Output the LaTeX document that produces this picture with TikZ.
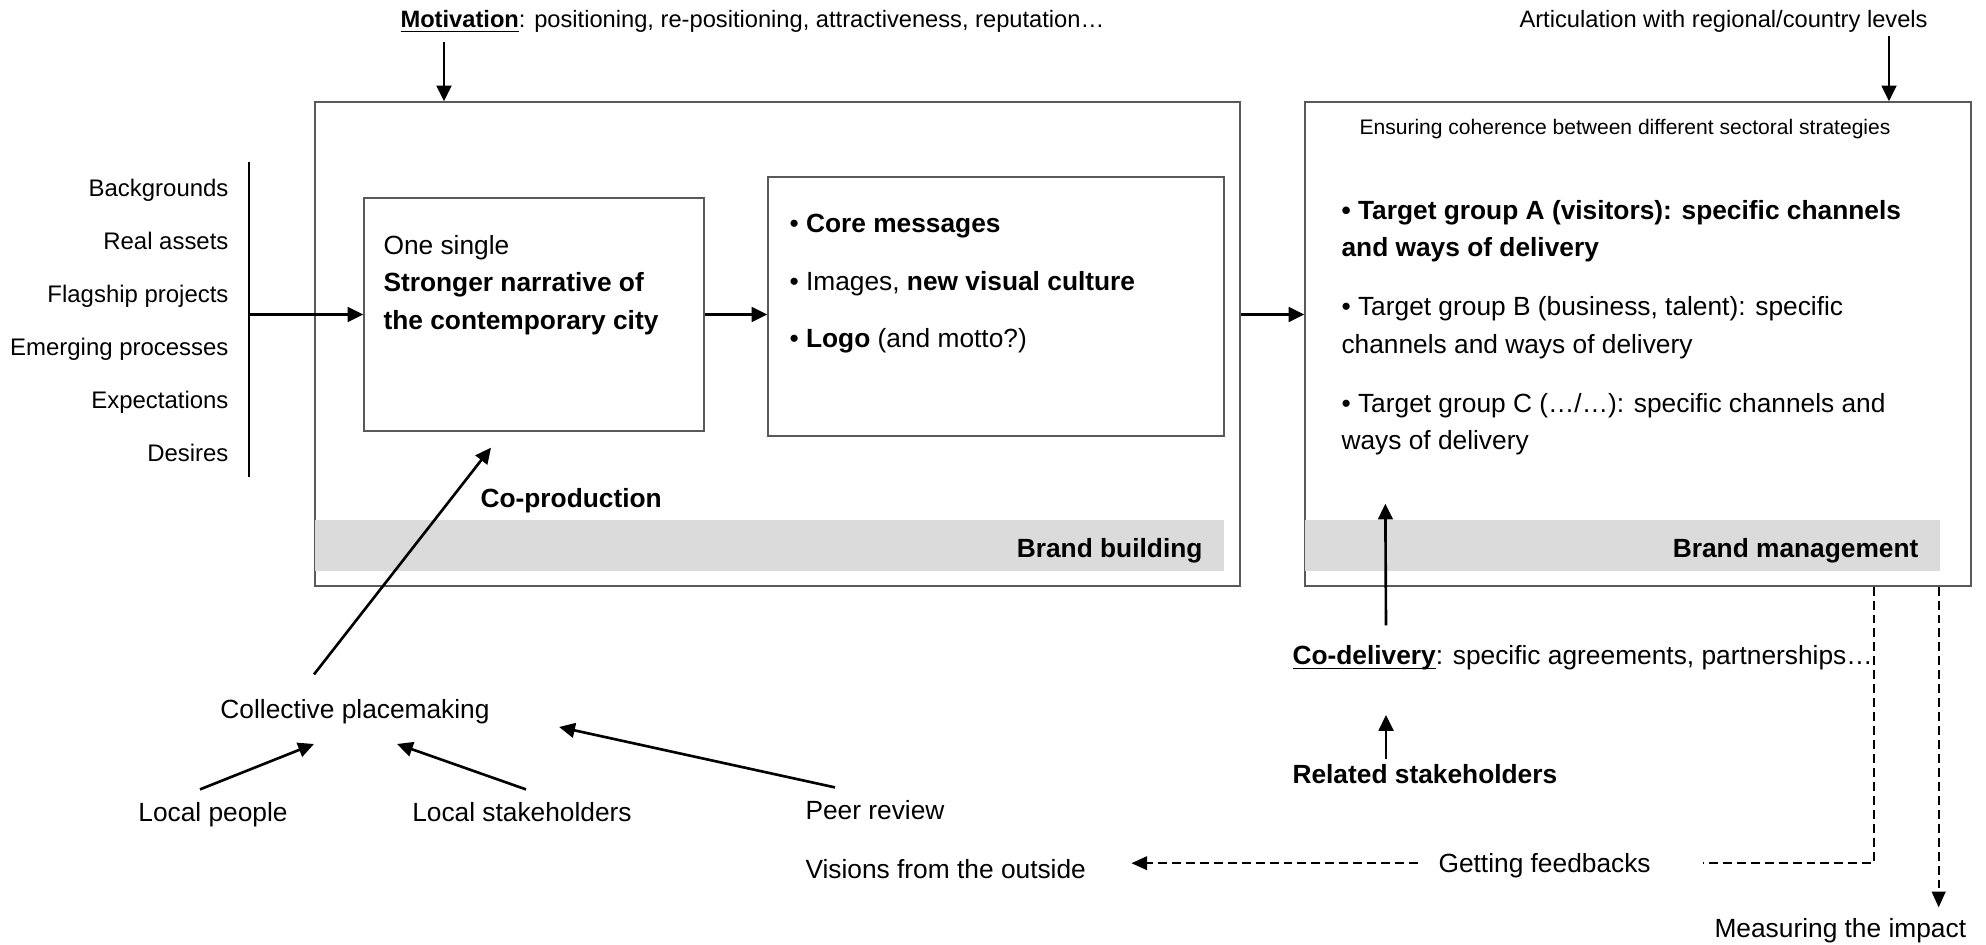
\documentclass[tikz,border=0pt]{standalone}
\usepackage{fontspec}
\setmainfont{Liberation Sans}
\usetikzlibrary{arrows.meta,fit,calc}

\newcommand{\ulbf}[1]{\underline{\smash{\textbf{#1}}}}

\tikzset{
  box/.style={draw=black!65, line width=0.5pt, inner sep=0pt},
  bar/.style={fill=black!14},
  lbl/.style={inner sep=0pt, font=\fontsize{10}{14.2}\selectfont},
  toplbl/.style={lbl, font=\fontsize{9}{11}\selectfont},
  arr/.style={line width=1pt, -{Triangle[length=6pt,width=5.6pt]}},
  dashline/.style={line width=0.75pt, dash pattern=on 3.4pt off 1.9pt},
  dasharr/.style={dashline, -{Triangle[length=6pt,width=5.2pt]}},
}

\begin{document}
\begin{tikzpicture}[x=0.38pt,y=-0.38pt]
\useasboundingbox (0,0) rectangle (1986,945);

% top labels
\node[toplbl, anchor=base west] (motiv) at (400,28) {\ulbf{Motivation}: positioning, re-positioning, attractiveness, reputation…};
\node[toplbl, anchor=base west] (artic) at (1519,28) {Articulation with regional/country levels};
\coordinate (motivfoot) at (444,42);
\coordinate (articfoot) at (1889,36);

% the two big frames
\node[box, fit={(315,102) (1240,586)}] (bbox) {};
\node[box, fit={(1305,102) (1971,586)}] (mbox) {};
\fill[bar] (315,520) rectangle (1224,571);
\fill[bar] (1305,520) rectangle (1940,571);
\node[lbl, anchor=base east] (bblbl) at (1203,557) {\textbf{Brand building}};
\node[lbl, anchor=base east] (mblbl) at (1919,557) {\textbf{Brand management}};

% inner boxes
\node[box, fit={(364,198) (704,431)}] (narr) {};
\node[box, fit={(768,177) (1224,436)}] (msg) {};
\node[lbl, anchor=north west, align=left] (narrtxt) at (383,235) {One single\\ \textbf{Stronger narrative of}\\ \textbf{the contemporary city}};
\node[lbl, anchor=north west, align=left] (msgtxt) at (789,214) {• \textbf{Core messages}\\[7.6pt] • Images, \textbf{new visual culture}\\[7.6pt] • \textbf{Logo} (and motto?)};

% brand management content
\node[lbl, anchor=base, font=\fontsize{8}{10}\selectfont] (ensure) at (1625,135) {Ensuring coherence between different sectoral strategies};
\node[lbl, anchor=north west, align=left] (groups) at (1341,200) {\textbf{• Target group A (visitors): specific channels}\\ \textbf{and ways of delivery}\\[8.2pt] • Target group B (business, talent): specific\\ channels and ways of delivery\\[8.2pt] • Target group C (…/…): specific channels and\\ ways of delivery};

% sources on the left
\foreach \txt [count=\i] in {Backgrounds, Real assets, Flagship projects, Emerging processes, Expectations, Desires}
  \node[lbl, anchor=base east, font=\fontsize{9.1}{11}\selectfont] (src\i) at (229,144+53*\i) {\txt};
\coordinate (vtop) at (249,162);
\coordinate (vbot) at (249,477);
\draw[line width=0.6pt] (vtop) -- (vbot);

% lower left
\node[lbl, anchor=base west] (coprod) at (480,508) {\textbf{Co-production}};
\node[lbl, anchor=base] (collect) at (355,718) {Collective placemaking};
\node[lbl, anchor=base] (lpeople) at (213,821) {Local people};
\node[lbl, anchor=base] (lstake) at (522,821) {Local stakeholders};
\node[lbl, anchor=base west] (peer) at (805,819) {Peer review};
\node[lbl, anchor=base west] (visions) at (805,878) {Visions from the outside};

% lower right
\node[lbl, anchor=base west] (codel) at (1292,665) {\ulbf{Co-delivery}: specific agreements, partnerships…};
\node[lbl, anchor=base west] (related) at (1292,783) {\textbf{Related stakeholders}};
\node[lbl, anchor=base west] (feed) at (1438,872) {Getting feedbacks};
\node[lbl, anchor=base west] (measure) at (1714,937) {Measuring the impact};

% arrows
\draw[arr] (motivfoot) -- (motivfoot |- bbox.north);
\draw[arr] (articfoot) -- (articfoot |- mbox.north);
\draw[arr] (vtop |- narr.west) -- (narr.west);
\draw[arr] (narr.east) -- (narr.east -| msg.west);
\draw[arr] (bbox.east |- narr.east) -- (mbox.west |- narr.east);
\draw[arr] ($(collect.north)+(-41,-24)$) -- ($(narr.south)+(-43,16)$);
\draw[arr] ($(lpeople.north)+(-13,-12)$) -- ($(collect.south)+(-41,20)$);
\draw[arr] ($(lstake.north)+(4,-12)$) -- ($(collect.south)+(42,20)$);
\draw[arr] ($(peer.north)+(-40,-12)$) -- ($(collect.south east)+(69,3)$);
\draw[arr] ($(codel.north west)+(94,-20)$) -- ($(mbox.south west)+(81,-83)$);
\draw[arr] ($(related.north west)+(94,-4)$) -- ($(codel.south west)+(94,44)$);

% dashed feedback loops
\path (mbox.south east) ++(-98,0) coordinate (fbtop) ++(65,0) coordinate (mtop);
\coordinate (fbright) at ($(feed.east)+(52,-2)$);
\coordinate (fbleft) at ($(feed.west)+(-20,-2)$);
\draw[dashline] (fbtop) |- (fbright);
\draw[dasharr] (fbleft) -- ($(fbleft -| visions.east)+(45,0)$);
\draw[dasharr] (mtop) -- ($(mtop |- measure.north)+(0,-10)$);
\end{tikzpicture}
\end{document}
